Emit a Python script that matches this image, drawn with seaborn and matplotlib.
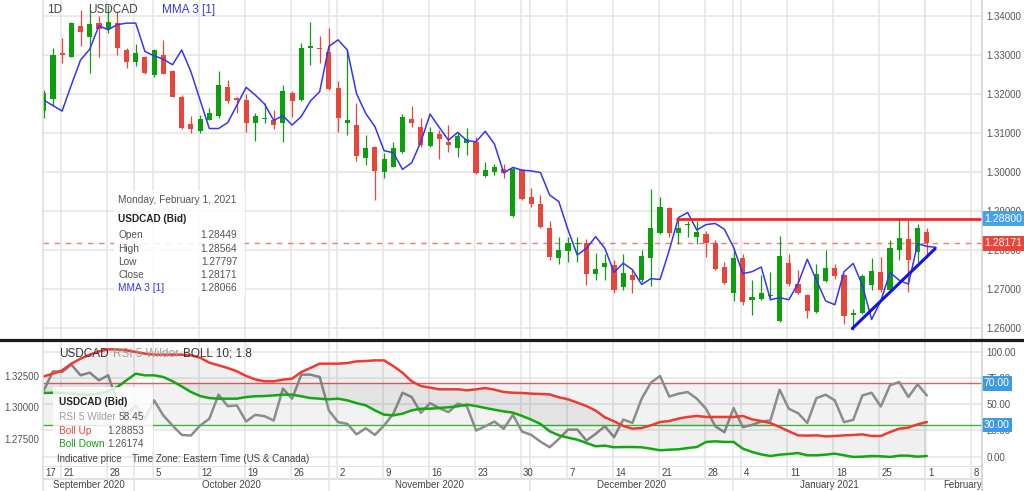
import numpy as np
import pandas as pd
import matplotlib
matplotlib.use("Agg")
import matplotlib.pyplot as plt
import matplotlib.transforms as mtransforms
from matplotlib.patches import Rectangle
from matplotlib.lines import Line2D
import seaborn as sns

# ---------------- data ----------------
opens = [1.3158, 1.3187, 1.3306, 1.3297, 1.3376, 1.3347, 1.3383, 1.3367, 1.3383, 1.3313,
         1.3284, 1.3297, 1.3250, 1.3300, 1.3260, 1.3192, 1.3124, 1.3106, 1.3134, 1.3143,
         1.3218, 1.3190, 1.3185, 1.3125, 1.3136, 1.3133, 1.3127, 1.3204, 1.3185, 1.3320,
         1.3320, 1.3310, 1.3215, 1.3127, 1.3121, 1.3035, 1.3065, 1.3001, 1.3014, 1.3052,
         1.3136, 1.3117, 1.3067, 1.3097, 1.3077, 1.3063, 1.3076, 1.3078, 1.2990, 1.3000,
         1.3007, 1.2887, 1.3005, 1.2936, 1.2917, 1.2857, 1.2778, 1.2797, 1.2815, 1.2818,
         1.2739, 1.2756, 1.2762, 1.2704, 1.2735, 1.2722, 1.2778, 1.2844, 1.2907, 1.2844,
         1.2863, 1.2832, 1.2840, 1.2818, 1.2755, 1.2688, 1.2780, 1.2670, 1.2673, 1.2682,
         1.2616, 1.2767, 1.2712, 1.2685, 1.2640, 1.2720, 1.2754, 1.2736, 1.2633, 1.2639,
         1.2711, 1.2743, 1.2697, 1.2801, 1.2829, 1.2795, 1.28449]
highs = [1.3211, 1.3319, 1.3344, 1.3385, 1.3417, 1.3417, 1.3402, 1.3430, 1.3413, 1.3319,
         1.3330, 1.3299, 1.3316, 1.3340, 1.3263, 1.3197, 1.3143, 1.3147, 1.3164, 1.3260,
         1.3237, 1.3194, 1.3202, 1.3151, 1.3177, 1.3160, 1.3224, 1.3209, 1.3333, 1.3387,
         1.3349, 1.3370, 1.3233, 1.3314, 1.3177, 1.3095, 1.3068, 1.3050, 1.3078, 1.3149,
         1.3170, 1.3138, 1.3117, 1.3108, 1.3121, 1.3104, 1.3113, 1.3089, 1.3027, 1.3022,
         1.3022, 1.3012, 1.3007, 1.2960, 1.2941, 1.2874, 1.2833, 1.2833, 1.2833, 1.2829,
         1.2792, 1.2789, 1.2774, 1.2789, 1.2748, 1.2799, 1.2957, 1.2935, 1.2911, 1.2885,
         1.2874, 1.2874, 1.2849, 1.2825, 1.2769, 1.2801, 1.2790, 1.2722, 1.2735, 1.2743,
         1.2835, 1.2790, 1.2748, 1.2686, 1.2765, 1.2799, 1.2763, 1.2739, 1.2649, 1.2739,
         1.2778, 1.2782, 1.2825, 1.2881, 1.2876, 1.2866, 1.28564]
lows = [1.3138, 1.3170, 1.3280, 1.3295, 1.3323, 1.3254, 1.3297, 1.3357, 1.3301, 1.3267,
        1.3274, 1.3252, 1.3244, 1.3251, 1.3192, 1.3110, 1.3101, 1.3101, 1.3133, 1.3138,
        1.3177, 1.3151, 1.3104, 1.3081, 1.3125, 1.3110, 1.3078, 1.3141, 1.3184, 1.3276,
        1.3280, 1.3212, 1.3104, 1.3095, 1.3028, 1.3018, 1.2928, 1.2984, 1.3012, 1.3050,
        1.3117, 1.3065, 1.3064, 1.3033, 1.3052, 1.3038, 1.3044, 1.2995, 1.2988, 1.2992,
        1.2984, 1.2885, 1.2928, 1.2911, 1.2855, 1.2774, 1.2765, 1.2769, 1.2769, 1.2709,
        1.2722, 1.2722, 1.2689, 1.2697, 1.2689, 1.2718, 1.2707, 1.2842, 1.2833, 1.2816,
        1.2832, 1.2816, 1.2782, 1.2748, 1.2712, 1.2669, 1.2658, 1.2632, 1.2670, 1.2670,
        1.2615, 1.2707, 1.2686, 1.2626, 1.2638, 1.2718, 1.2726, 1.2609, 1.2593, 1.2636,
        1.2697, 1.2692, 1.2695, 1.2774, 1.2692, 1.2769, 1.27797]
closes = [1.3204, 1.3301, 1.3300, 1.3383, 1.3359, 1.3381, 1.3367, 1.3387, 1.3319, 1.3284,
          1.3307, 1.3254, 1.3313, 1.3252, 1.3194, 1.3114, 1.3111, 1.3136, 1.3151, 1.3224,
          1.3184, 1.3185, 1.3125, 1.3143, 1.3138, 1.3121, 1.3209, 1.3184, 1.3320, 1.3323,
          1.3316, 1.3213, 1.3138, 1.3134, 1.3041, 1.3061, 1.3003, 1.3033, 1.3061, 1.3141,
          1.3127, 1.3070, 1.3104, 1.3086, 1.3070, 1.3093, 1.3084, 1.2997, 1.3005, 1.3012,
          1.2997, 1.3009, 1.2932, 1.2918, 1.2859, 1.2782, 1.2799, 1.2818, 1.2818, 1.2739,
          1.2752, 1.2767, 1.2698, 1.2741, 1.2722, 1.2784, 1.2857, 1.2909, 1.2844, 1.2857,
          1.2866, 1.2846, 1.2818, 1.2752, 1.2715, 1.2778, 1.2667, 1.2679, 1.2688, 1.2685,
          1.2784, 1.2712, 1.2690, 1.2643, 1.2737, 1.2754, 1.2732, 1.2630, 1.2639, 1.2732,
          1.2746, 1.2697, 1.2804, 1.2831, 1.2775, 1.2855, 1.28171]
mma3 = [1.3185, 1.3171, 1.3157, 1.3224, 1.3288, 1.3316, 1.3376, 1.3366, 1.3379, 1.3383,
        1.3383, 1.3310, 1.3299, 1.3290, 1.3276, 1.3314, 1.3258, 1.3185, 1.3112, 1.3112,
        1.3127, 1.3172, 1.3218, 1.3198, 1.3175, 1.3133, 1.3145, 1.3121, 1.3143, 1.3183,
        1.3207, 1.3323, 1.3340, 1.3314, 1.3202, 1.3151, 1.3117, 1.3055, 1.3050, 1.3007,
        1.3024, 1.3078, 1.3149, 1.3115, 1.3082, 1.3102, 1.3081, 1.3078, 1.3105, 1.3072,
        1.2998, 1.3012, 1.3005, 1.3003, 1.2999, 1.2941, 1.2924, 1.2851, 1.2787, 1.2804,
        1.2834, 1.2804, 1.2742, 1.2766, 1.2749, 1.2711, 1.2726, 1.2724, 1.2799, 1.2883,
        1.2896, 1.2851, 1.2865, 1.2868, 1.2853, 1.2806, 1.2739, 1.2744, 1.2756, 1.2672,
        1.2677, 1.2672, 1.2713, 1.2776, 1.2722, 1.2669, 1.2659, 1.2744, 1.2765, 1.2709,
        1.2621, 1.2669, 1.2742, 1.2722, 1.2712, 1.2816, 1.2809, 1.28066]
rsi5 = [63.0, 81.5, 80.9, 87.9, 77.7, 80.2, 72.9, 77.7, 52.0, 40.0,
        49.0, 36.0, 53.7, 39.3, 29.7, 20.7, 20.1, 29.7, 36.1, 59.1,
        48.2, 48.9, 33.5, 39.9, 38.6, 34.5, 64.9, 55.3, 78.3, 78.3,
        76.1, 44.1, 32.9, 31.3, 21.2, 27.1, 20.7, 29.7, 40.9, 61.0,
        56.9, 41.8, 51.1, 46.3, 42.5, 50.5, 48.2, 24.9, 29.0, 33.5,
        26.5, 39.9, 23.9, 20.7, 14.3, 8.9, 16.9, 25.8, 25.8, 15.3,
        21.7, 29.0, 18.5, 35.4, 32.2, 55.3, 70.6, 77.0, 57.4, 60.1,
        61.7, 55.3, 45.7, 29.0, 23.3, 46.3, 28.1, 30.3, 33.5, 34.5,
        63.9, 45.7, 41.5, 32.2, 55.9, 59.1, 53.7, 32.9, 35.1, 58.5,
        61.0, 47.9, 68.1, 71.3, 56.9, 69.1, 58.45]
boll_up = [1.3245, 1.3266, 1.3292, 1.3345, 1.3384, 1.3416, 1.3442, 1.3458, 1.3458, 1.3450,
           1.3437, 1.3424, 1.3416, 1.3416, 1.3416, 1.3416, 1.3411, 1.3392, 1.3353, 1.3332,
           1.3311, 1.3285, 1.3248, 1.3221, 1.3206, 1.3206, 1.3219, 1.3227, 1.3279, 1.3311,
           1.3345, 1.3345, 1.3345, 1.3350, 1.3363, 1.3366, 1.3371, 1.3371, 1.3326, 1.3274,
           1.3206, 1.3169, 1.3156, 1.3143, 1.3143, 1.3143, 1.3135, 1.3143, 1.3153, 1.3140,
           1.3122, 1.3116, 1.3114, 1.3109, 1.3106, 1.3103, 1.3080, 1.3064, 1.3038, 1.3011,
           1.2975, 1.2922, 1.2891, 1.2854, 1.2833, 1.2838, 1.2859, 1.2885, 1.2893, 1.2912,
           1.2925, 1.2933, 1.2925, 1.2925, 1.2925, 1.2925, 1.2933, 1.2906, 1.2893, 1.2877,
           1.2846, 1.2812, 1.2780, 1.2778, 1.2780, 1.2772, 1.2775, 1.2780, 1.2783, 1.2788,
           1.2775, 1.2775, 1.2806, 1.2833, 1.2841, 1.2867, 1.28853]
boll_down = [1.3114, 1.3116, 1.3114, 1.3109, 1.3103, 1.3101, 1.3109, 1.3127, 1.3161, 1.3214,
             1.3266, 1.3253, 1.3253, 1.3240, 1.3206, 1.3166, 1.3122, 1.3090, 1.3074, 1.3069,
             1.3069, 1.3069, 1.3082, 1.3088, 1.3090, 1.3095, 1.3101, 1.3101, 1.3088, 1.3074,
             1.3069, 1.3064, 1.3069, 1.3056, 1.3034, 1.3017, 1.2977, 1.2943, 1.2938, 1.2951,
             1.2977, 1.2990, 1.2990, 1.2996, 1.3001, 1.3009, 1.3022, 1.3011, 1.2996, 1.2982,
             1.2969, 1.2959, 1.2933, 1.2904, 1.2870, 1.2812, 1.2780, 1.2762, 1.2746, 1.2720,
             1.2694, 1.2699, 1.2686, 1.2688, 1.2688, 1.2686, 1.2675, 1.2662, 1.2667, 1.2670,
             1.2680, 1.2688, 1.2728, 1.2733, 1.2728, 1.2728, 1.2675, 1.2649, 1.2630, 1.2617,
             1.2628, 1.2633, 1.2641, 1.2623, 1.2623, 1.2628, 1.2636, 1.2623, 1.2610, 1.2612,
             1.2617, 1.2615, 1.2610, 1.2620, 1.2620, 1.2612, 1.26174]

week_idx = [0, 2, 7, 12, 17, 22, 27, 32, 37, 42, 47, 52, 57, 62, 67, 72, 76, 81, 86, 91, 96, 101]
week_lbl = ["17", "21", "28", "5", "12", "19", "26", "2", "9", "16", "23", "30",
            "7", "14", "21", "28", "4", "11", "18", "25", "1", "8"]
month_bounds = [9.85, 31.0, 52.85, 74.9, 95.85]
month_lbl = ["September 2020", "October 2020", "November 2020", "December 2020",
             "January 2021", "February"]
price_ticks = [1.26, 1.27, 1.28, 1.29, 1.30, 1.31, 1.32, 1.33, 1.34]
rsi_ticks = [0, 25, 50, 75, 100]
boll_ticks = [1.275, 1.300, 1.325]
resistance = 1.288
last_close = 1.28171
trend_x = [87.9, 96.9]
trend_y = [1.2598, 1.2803]

# ---------------- styling ----------------
sns.set_theme(style="white")
plt.rcParams['font.family'] = ['Liberation Sans', 'DejaVu Sans']

W, H = 1024, 491
fig = plt.figure(figsize=(W / 100, H / 100), dpi=100)
fig.patch.set_facecolor('white')


def fx(x):
    return x / W


def fy(y):
    return 1 - y / H


XL, XR = 43, 982
XMIN, XMAX = -0.08, 102.0
GRID = '#e4e4e4'
GREEN = '#0b9f0b'
RED = '#e8463a'
BLUE = '#3535f5'
TXT = '#444444'

ax = fig.add_axes([fx(XL), fy(338), fx(XR) - fx(XL), 338 / H])
axb = fig.add_axes([fx(XL), fy(466), fx(XR) - fx(XL), 124 / H])
axr = axb.twinx()
axd = fig.add_axes([fx(XL), 0, fx(XR) - fx(XL), 25 / H])

vgrid = [w - 0.15 for w in week_idx] + month_bounds

# ---------------- price panel ----------------
ax.set_xlim(XMIN, XMAX)
ax.set_ylim(1.25735, 1.34424)
for p in price_ticks:
    ax.axhline(p, color=GRID, lw=1.1, zorder=0)
for v in vgrid:
    ax.axvline(v, color=GRID, lw=1.1, zorder=0)

x = np.arange(len(opens))
o = np.array(opens); h = np.array(highs); l = np.array(lows); c = np.array(closes)
cols = np.where(c >= o, GREEN, RED)
ax.vlines(x, l, h, colors=cols, lw=0.9, zorder=2)
body_lo = np.minimum(o, c)
body_h = np.maximum(np.abs(c - o), 0.00012)
ax.bar(x, body_h, bottom=body_lo, width=0.56, color=cols, lw=0, zorder=3)

df_mma = pd.DataFrame({'i': np.arange(len(mma3)), 'v': mma3})
sns.lineplot(data=df_mma, x='i', y='v', ax=ax, color=BLUE, lw=1.1, zorder=4, estimator=None)

ax.axhline(last_close, color='#f07a7a', lw=1.0, ls=(0, (4, 4)), zorder=1)
ax.plot([68.85, XMAX], [resistance, resistance], color='#ff2020', lw=2.0, zorder=5)
ax.plot(trend_x, trend_y, color='#1515e0', lw=2.2, zorder=6, solid_capstyle='round')

ax.yaxis.tick_right()
ax.set_yticks(price_ticks)
ax.set_yticklabels([f"{p:.5f}" for p in price_ticks])
ax.tick_params(axis='y', length=0, pad=3, labelsize=7, labelcolor='#555555')
ax.set_xticks([])
ax.set_xlabel('')
ax.set_ylabel('')
for s in ax.spines.values():
    s.set_visible(False)

tr = mtransforms.blended_transform_factory(ax.transAxes, ax.transData)
ax.text(1.002, resistance, "1.28800", transform=tr, ha='left', va='center', fontsize=7.5,
        color='white', clip_on=False, zorder=10,
        bbox=dict(boxstyle='square,pad=0.22', fc='#45a3e3', ec='none'))
ax.text(1.002, last_close, "1.28171", transform=tr, ha='left', va='center', fontsize=7.5,
        color='white', clip_on=False, zorder=10,
        bbox=dict(boxstyle='square,pad=0.22', fc=RED, ec='none'))

# ---------------- indicator panel ----------------
axb.set_zorder(2)
axr.set_zorder(1)
axb.patch.set_visible(False)
axr.set_xlim(XMIN, XMAX)
axb.set_xlim(XMIN, XMAX)
for r in rsi_ticks:
    axr.axhline(r, color=GRID, lw=1.1, zorder=0)
for v in vgrid:
    axr.axvline(v, color=GRID, lw=1.1, zorder=0)
axr.fill_between([XMIN, len(rsi5) - 1], 30, 70, color='black', alpha=0.05, lw=0, zorder=1)
axr.axhline(70, color='#e06060', lw=1.0, zorder=2)
axr.axhline(30, color='#3cb43c', lw=1.0, zorder=2)
df_ind = pd.DataFrame({'i': x, 'rsi': rsi5, 'up': boll_up, 'dn': boll_down})
sns.lineplot(data=df_ind, x='i', y='rsi', ax=axr, color='#8c8c8c', lw=1.8, zorder=3, estimator=None)
axr.set_ylim(-9.0, 109.5)
axr.set_yticks(rsi_ticks)
axr.set_yticklabels([f"{r:.2f}" for r in rsi_ticks])
axr.tick_params(axis='y', length=0, pad=3, labelsize=7, labelcolor='#555555')
axr.set_xlabel('')
axr.set_ylabel('')

axb.fill_between(x, boll_down, boll_up, color='black', alpha=0.06, lw=0, zorder=1)
sns.lineplot(data=df_ind, x='i', y='up', ax=axb, color='#ee3b30', lw=1.8, zorder=3, estimator=None)
sns.lineplot(data=df_ind, x='i', y='dn', ax=axb, color='#12a812', lw=1.8, zorder=3, estimator=None)
axb.set_ylim(1.25386, 1.35157)
axb.set_yticks(boll_ticks)
axb.set_yticklabels([f"{b:.5f}" for b in boll_ticks])
axb.tick_params(axis='y', length=0, pad=3, labelsize=7, labelcolor='#555555')
axb.set_xticks([])
axr.set_xticks([])
axb.set_xlabel('')
axb.set_ylabel('')
for a in (axb, axr):
    for s in a.spines.values():
        s.set_visible(False)

trr = mtransforms.blended_transform_factory(axr.transAxes, axr.transData)
for val in (70, 30):
    axr.text(1.002, val, f"{val:.2f}", transform=trr, ha='left', va='center', fontsize=7.5,
             color='white', clip_on=False, zorder=10,
             bbox=dict(boxstyle='square,pad=0.22', fc='#3d9be3', ec='none'))

# ---------------- date band ----------------
axd.set_xlim(XMIN, XMAX)
axd.set_ylim(0, 25)
axd.axis('off')
axd.axhline(24.8, color='#d8d8d8', lw=1.1)
axd.axhline(12.3, color='#d8d8d8', lw=1.1)
for v in vgrid:
    axd.plot([v, v], [12.3, 25], color=GRID, lw=1.1)
for m in month_bounds:
    axd.plot([m, m], [0, 12.3], color=GRID, lw=1.1)
for w, lbl in zip(week_idx, week_lbl):
    axd.text(w + 0.12, 18.4, lbl, ha='left', va='center', fontsize=7, color=TXT)
edges = [XMIN] + month_bounds
for k, lbl in enumerate(month_lbl[:-1]):
    axd.text((edges[k] + edges[k + 1]) / 2, 6.0, lbl, ha='center', va='center', fontsize=7, color=TXT)
axd.text(XMAX - 0.05, 6.0, month_lbl[-1], ha='right', va='center', fontsize=7, color=TXT)

# ---------------- figure-level lines ----------------
fig.add_artist(Line2D([fx(XL), fx(XL)], [0, 1], transform=fig.transFigure, color='#dddddd', lw=1.1, zorder=3))
fig.add_artist(Line2D([fx(XR), fx(XR)], [0, 1], transform=fig.transFigure, color='#d0d0d0', lw=1.1, zorder=3))
fig.add_artist(Line2D([0, 1], [fy(340), fy(340)], transform=fig.transFigure, color='#1a1a1a', lw=2.3, zorder=11))

# ---------------- titles ----------------
fig.text(fx(46.7), fy(10), "1D", fontsize=8.5, color=TXT, va='center', zorder=9)
fig.text(fx(88.3), fy(10), "USDCAD", fontsize=8.5, color=TXT, va='center', zorder=9)
fig.text(fx(161.7), fy(10), "MMA 3 [1]", fontsize=8.5, color=BLUE, va='center', zorder=9)

fig.text(fx(59.3), fy(353.7), "USDCAD", fontsize=8.5, color='#333333', va='center', zorder=9)
fig.text(fx(113.3), fy(353.7), "RSI 5 Wilder", fontsize=8.5, color='#a0a0a0', va='center', zorder=9)
fig.text(fx(183.3), fy(353.7), "BOLL 10; 1.8", fontsize=8.5, color='#333333', va='center', zorder=9)

fig.text(fx(57.3), fy(459.3), "Indicative price", fontsize=7, color=TXT, va='center', zorder=9)
fig.text(fx(132.3), fy(459.3), "Time Zone: Eastern Time (US & Canada)", fontsize=7, color=TXT,
         va='center', zorder=9)

# ---------------- info boxes ----------------
fig.add_artist(Rectangle((fx(114), fy(297)), (245 - 114) / W, (297 - 190) / H,
                         transform=fig.transFigure, fc='white', alpha=0.86, ec='none', zorder=8))
fig.text(fx(118.3), fy(200), "Monday, February 1, 2021", fontsize=7.3, color='#555555', va='center', zorder=9)
fig.text(fx(118.3), fy(219.3), "USDCAD (Bid)", fontsize=7.2, color='#222222', weight='bold', va='center', zorder=9)
rows = [("Open", "1.28449", '#555555'), ("High", "1.28564", '#555555'), ("Low", "1.27797", '#555555'),
        ("Close", "1.28171", '#555555'), ("MMA 3 [1]", "1.28066", BLUE)]
row_y = [235.5, 248.5, 261.7, 275.0, 288.3]
for (lab, val, col), yy in zip(rows, row_y):
    fig.text(fx(118.3), fy(yy), lab, fontsize=7.3, color=col, va='center', zorder=9)
    fig.text(fx(237.3), fy(yy), val, fontsize=7.3, color='#555555', va='center', ha='right', zorder=9)

fig.add_artist(Rectangle((fx(53), fy(452)), (153 - 53) / W, (452 - 387) / H,
                         transform=fig.transFigure, fc='white', alpha=0.82, ec='none', zorder=8))
fig.text(fx(59.3), fy(402.3), "USDCAD (Bid)", fontsize=7.2, color='#222222', weight='bold', va='center', zorder=9)
rows_b = [("RSI 5 Wilder", "58.45", '#a0a0a0'), ("Boll Up", "1.28853", '#e8463a'),
          ("Boll Down", "1.26174", '#12a012')]
rowb_y = [417.3, 430.7, 444.3]
for (lab, val, col), yy in zip(rows_b, rowb_y):
    fig.text(fx(59.3), fy(yy), lab, fontsize=7.3, color=col, va='center', zorder=9)
    fig.text(fx(144), fy(yy), val, fontsize=7.3, color='#555555', va='center', ha='right', zorder=9)

fig.savefig("out.png", dpi=100)
